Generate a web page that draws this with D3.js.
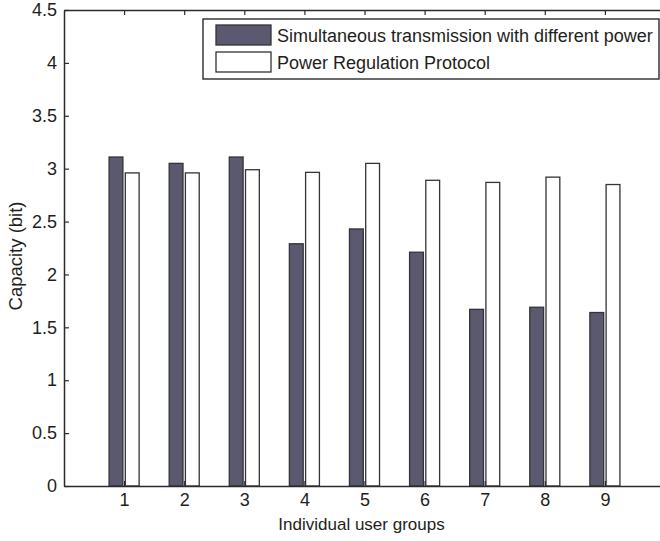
<!DOCTYPE html>
<html>
<head>
<meta charset="utf-8">
<script src="https://cdn.jsdelivr.net/npm/d3@7"></script>
<style>
  html, body { margin: 0; padding: 0; background: #fff; }
  svg { display: block; font-family: "Liberation Sans", Arial, sans-serif; }
</style>
</head>
<body>
<svg id="chart" width="660" height="541"></svg>
<script>
// User groups along the x axis
const groups = [1, 2, 3, 4, 5, 6, 7, 8, 9];
// Capacity (bit) per group for each scheme
const simultaneous = [3.11, 3.05, 3.11, 2.29, 2.43, 2.21, 1.67, 1.69, 1.64];
const regulation   = [2.96, 2.96, 2.99, 2.965, 3.05, 2.89, 2.87, 2.92, 2.85];
const seriesNames = ["Simultaneous transmission with different power", "Power Regulation Protocol"];
const yTicks = [0, 0.5, 1, 1.5, 2, 2.5, 3, 3.5, 4, 4.5];
const xTicks = groups;

const svg = d3.select("#chart");
const plotLeft = 64, plotRight = 665, plotTop = 10, plotBottom = 486;

const x = d3.scaleLinear().domain([0, 10]).range([plotLeft, plotRight]);
const y = d3.scaleLinear().domain([0, 4.5]).range([plotBottom, plotTop]);

const axisColor = "#2b2b2e";
const darkFill = "#5b5970";
const barW = 0.23;           // bar width in x units
const offset = 0.135;        // bar centre offset from group tick

const series = [
  { values: simultaneous, dx: -offset, fill: darkFill },
  { values: regulation,   dx:  offset, fill: "#ffffff" }
];

// Bars
series.forEach(s => {
  svg.append("g").selectAll("rect")
    .data(groups.map((g, i) => ({ g, v: s.values[i] })))
    .join("rect")
    .attr("x", d => x(d.g + s.dx - barW / 2))
    .attr("width", d => x(d.g + s.dx + barW / 2) - x(d.g + s.dx - barW / 2))
    .attr("y", d => y(d.v))
    .attr("height", d => y(0) - y(d.v))
    .attr("fill", s.fill)
    .attr("stroke", "#333338")
    .attr("stroke-width", 1.3);
});

// Axes: ticks point inward, mirrored on all four sides
const fontSize = 18;
const bottomAxis = d3.axisBottom(x).tickValues(xTicks).tickSizeInner(-5).tickSizeOuter(0).tickPadding(10);
const topAxis = d3.axisTop(x).tickValues(xTicks).tickSizeInner(-5).tickSizeOuter(0).tickFormat("");
const leftAxis = d3.axisLeft(y).tickValues(yTicks).tickSizeInner(-5).tickSizeOuter(0).tickPadding(7)
  .tickFormat(d3.format("~g"));
const rightAxis = d3.axisRight(y).tickValues(yTicks).tickSizeInner(-5).tickSizeOuter(0).tickFormat("");

function styleAxis(g) {
  g.select(".domain").attr("stroke", axisColor).attr("stroke-width", 1.5);
  g.selectAll(".tick line").attr("stroke", axisColor).attr("stroke-width", 1.2);
  g.selectAll(".tick text").attr("fill", "#1e1e20").style("font-size", fontSize + "px");
}

svg.append("g").attr("transform", `translate(0,${plotBottom})`).call(bottomAxis).call(styleAxis)
  .selectAll(".tick text").attr("dy", "0.55em");
svg.append("g").attr("transform", `translate(0,${plotTop})`).call(topAxis).call(styleAxis);
svg.append("g").attr("transform", `translate(${plotLeft},0)`).call(leftAxis).call(styleAxis);
svg.append("g").attr("transform", `translate(${plotRight},0)`).call(rightAxis).call(styleAxis);

// Axis titles
svg.append("text")
  .attr("x", (x(0) + x(10)) / 2 - 3).attr("y", 530)
  .attr("text-anchor", "middle")
  .style("font-size", "17px").attr("fill", "#1e1e20")
  .text("Individual user groups");

svg.append("text")
  .attr("transform", `translate(22,256) rotate(-90)`)
  .attr("text-anchor", "middle")
  .style("font-size", "18.5px").attr("fill", "#1e1e20")
  .text("Capacity (bit)");

// Legend
const legend = svg.append("g");
legend.append("rect")
  .attr("x", 203).attr("y", 19).attr("width", 456).attr("height", 60)
  .attr("fill", "#fff").attr("stroke", axisColor).attr("stroke-width", 1.4);

series.forEach((s, i) => {
  const yy = 25 + i * 27;
  legend.append("rect")
    .attr("x", 216).attr("y", yy).attr("width", 55).attr("height", 20)
    .attr("fill", s.fill).attr("stroke", "#333338").attr("stroke-width", 1.3);
  legend.append("text")
    .attr("x", 277).attr("y", yy + 17)
    .style("font-size", "18px").attr("fill", "#1e1e20")
    .text(seriesNames[i]);
});
</script>
</body>
</html>
